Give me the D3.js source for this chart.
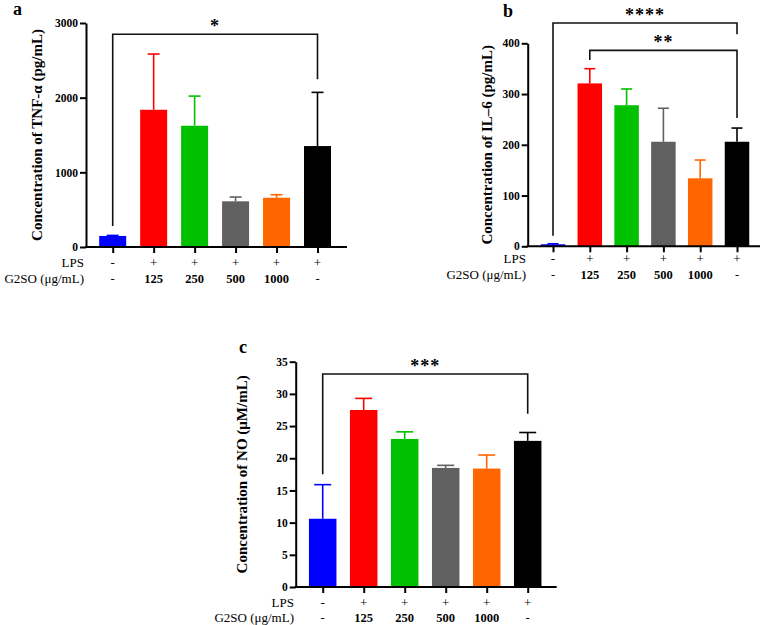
<!DOCTYPE html>
<html>
<head>
<meta charset="utf-8">
<script src="https://cdn.jsdelivr.net/npm/d3@7"></script>
<style>
  body { margin: 0; background: #fff; }
  svg text { font-family: "Liberation Serif", Tinos, "Times New Roman", Times, "DejaVu Serif", serif; }
  .axis path, .axis line { stroke: #000; stroke-width: 2; }
  .axis text { font-weight: bold; font-size: 11.5px; fill: #000; }
</style>
</head>
<body>
<div id="vis"></div>
<script>
// groups (same in all three panels)
const lpsRow = ["-", "+", "+", "+", "+", "+"];
const g2soRow = ["-", "125", "250", "500", "1000", "-"];
const barColors = ["#0000ff", "#ff0000", "#00c000", "#606060", "#ff6600", "#000000"];

// panel a: TNF-alpha
const tnfMean = [148, 1838, 1624, 612, 660, 1352];
const tnfSd = [7, 746, 397, 57, 40, 719];
const tnfTicks = [0, 1000, 2000, 3000];
const tnfSig = [{ from: 0, to: 5, y: 2850, yl: 280, yr: 2245, txt: "*" }];

// panel b: IL-6
const il6Mean = [4, 321, 278, 206, 134, 206];
const il6Sd = [1, 29, 32, 66, 36, 27];
const il6Ticks = [0, 100, 200, 300, 400];
const il6Sig = [
  { from: 0, to: 5, y: 440, yl: 21, yr: 418, txt: "****" },
  { from: 1, to: 5, y: 386, yl: 367, yr: 253, txt: "**" }
];

// panel c: NO
const noMean = [10.6, 27.5, 23.0, 18.5, 18.4, 22.7];
const noSd = [5.3, 1.8, 1.1, 0.4, 2.1, 1.3];
const noTicks = [0, 5, 10, 15, 20, 25, 30, 35];
const noSig = [{ from: 0, to: 5, y: 33.1, yl: 17.5, yr: 26.9, txt: "***" }];

const WIDTH = 763, HEIGHT = 625;

const svg = d3.select("#vis").append("svg")
  .attr("width", WIDTH)
  .attr("height", HEIGHT);

const panels = [
  { letter: "a", lx: 13, ly: 15, mean: tnfMean, sd: tnfSd, ticks: tnfTicks, sig: tnfSig,
    title: "Concentration of TNF-\u03b1 (pg/mL)", titleX: 37,
    axisX: 86, xEnd: 347, y0: 247, yTop: 23, first: 112.7, last: 317.5, barW: 27, capW: 12,
    labelRight: 84, lpsY: 267, g2Y: 283 },
  { letter: "b", lx: 503, ly: 17, mean: il6Mean, sd: il6Sd, ticks: il6Ticks, sig: il6Sig,
    title: "Concentration of IL\u20136 (pg/mL)", titleX: 487,
    axisX: 527.7, xEnd: 760, y0: 246.3, yTop: 43.3, first: 553, last: 737, barW: 24.5, capW: 11,
    labelRight: 526, lpsY: 263, g2Y: 279 },
  { letter: "c", lx: 239, ly: 353, mean: noMean, sd: noSd, ticks: noTicks, sig: noSig,
    title: "Concentration of NO (\u03bcM/mL)", titleX: 242,
    axisX: 295.7, xEnd: 556.7, y0: 587, yTop: 361.7, first: 322.7, last: 527.7, barW: 27.5, capW: 17,
    labelRight: 294, lpsY: 607, g2Y: 622 }
];

panels.forEach((p) => {
  const g = svg.append("g");
  const yMax = d3.max(p.ticks);

  const Y_SCALE = d3.scaleLinear().domain([0, yMax]).range([p.y0, p.yTop]);
  const X_SCALE = d3.scalePoint().domain(d3.range(p.mean.length)).range([p.first, p.last]);

  // bars
  g.selectAll("rect.bar")
    .data(p.mean)
    .enter()
    .append("rect")
      .attr("class", "bar")
      .attr("x", (d, i) => X_SCALE(i) - p.barW / 2)
      .attr("y", (d) => Y_SCALE(d))
      .attr("width", p.barW)
      .attr("height", (d) => p.y0 - Y_SCALE(d))
      .attr("fill", (d, i) => barColors[i]);

  // error bars (upper only)
  g.selectAll("line.err")
    .data(p.mean)
    .enter()
    .append("line")
      .attr("x1", (d, i) => X_SCALE(i))
      .attr("x2", (d, i) => X_SCALE(i))
      .attr("y1", (d) => Y_SCALE(d))
      .attr("y2", (d, i) => Y_SCALE(d + p.sd[i]))
      .attr("stroke", (d, i) => barColors[i])
      .attr("stroke-width", 1.6);
  g.selectAll("line.cap")
    .data(p.mean)
    .enter()
    .append("line")
      .attr("x1", (d, i) => X_SCALE(i) - p.capW / 2)
      .attr("x2", (d, i) => X_SCALE(i) + p.capW / 2)
      .attr("y1", (d, i) => Y_SCALE(d + p.sd[i]))
      .attr("y2", (d, i) => Y_SCALE(d + p.sd[i]))
      .attr("stroke", (d, i) => barColors[i])
      .attr("stroke-width", 1.6);

  // y axis
  const yAx = g.append("g")
    .attr("class", "axis")
    .attr("transform", `translate(${p.axisX},0)`)
    .call(d3.axisLeft(Y_SCALE).tickValues(p.ticks).tickFormat(d3.format("d"))
      .tickSize(6).tickSizeOuter(0).tickPadding(2));
  yAx.attr("font-family", null);

  // x axis
  const xAx = g.append("g")
    .attr("class", "axis")
    .attr("transform", `translate(0,${p.y0})`)
    .call(d3.axisBottom(X_SCALE).tickSize(6).tickFormat(() => ""));
  xAx.select(".domain").remove();
  g.append("line")
    .attr("x1", p.axisX - 1).attr("x2", p.xEnd)
    .attr("y1", p.y0).attr("y2", p.y0)
    .attr("stroke", "#000").attr("stroke-width", 2);

  // y title
  g.append("text")
    .attr("transform", `translate(${p.titleX},${(p.y0 + p.yTop) / 2}) rotate(-90)`)
    .attr("text-anchor", "middle")
    .attr("dominant-baseline", "central")
    .attr("font-weight", "bold")
    .attr("font-size", 15)
    .text(p.title);

  // panel letter
  g.append("text")
    .attr("x", p.lx).attr("y", p.ly)
    .attr("font-weight", "bold")
    .attr("font-size", 18)
    .text(p.letter);

  // group rows under the axis
  g.append("text")
    .attr("x", p.labelRight).attr("y", p.lpsY)
    .attr("text-anchor", "end").attr("font-size", 13)
    .text("LPS");
  g.append("text")
    .attr("x", p.labelRight).attr("y", p.g2Y)
    .attr("text-anchor", "end").attr("font-size", 13)
    .text("G2SO (\u03bcg/mL)");
  g.selectAll("text.lps")
    .data(lpsRow)
    .enter()
    .append("text")
      .attr("x", (d, i) => X_SCALE(i))
      .attr("y", p.lpsY)
      .attr("text-anchor", "middle").attr("font-size", 13)
      .text((d) => d);
  g.selectAll("text.g2")
    .data(g2soRow)
    .enter()
    .append("text")
      .attr("x", (d, i) => X_SCALE(i))
      .attr("y", p.g2Y)
      .attr("text-anchor", "middle").attr("font-size", 12.5)
      .attr("font-weight", (d) => d === "-" ? "normal" : "bold")
      .text((d) => d);

  // significance brackets
  p.sig.forEach((s) => {
    const xa = X_SCALE(s.from), xb = X_SCALE(s.to), yy = Y_SCALE(s.y);
    g.append("path")
      .attr("d", `M${xa},${Y_SCALE(s.yl)}V${yy}H${xb}V${Y_SCALE(s.yr)}`)
      .attr("fill", "none")
      .attr("stroke", "#111")
      .attr("stroke-width", 1.6);
    g.append("text")
      .attr("x", (xa + xb) / 2)
      .attr("y", yy - 2)
      .attr("text-anchor", "middle")
      .attr("font-weight", "bold")
      .attr("font-size", 18)
      .attr("letter-spacing", 1)
      .text(s.txt);
  });
});
</script>
</body>
</html>
